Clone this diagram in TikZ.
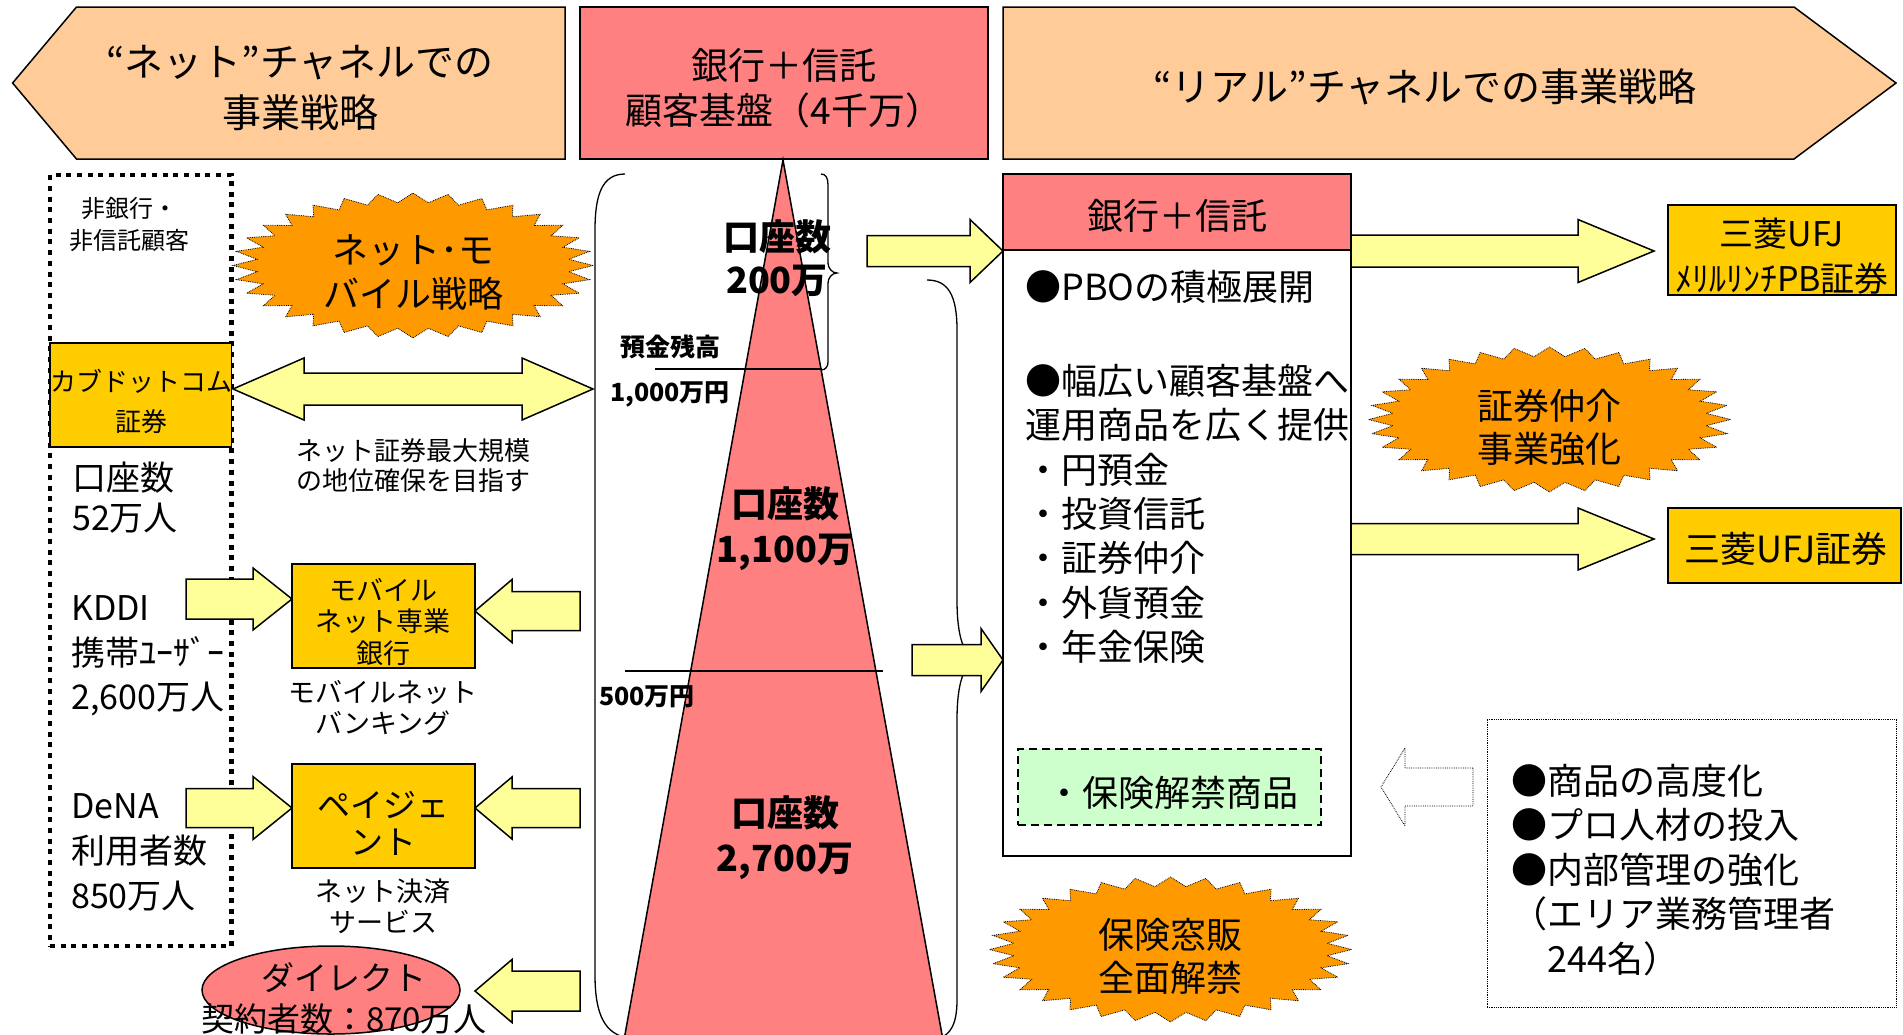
\documentclass[tikz,border=0pt]{standalone}
\usepackage{fontspec}
\setmainfont{Noto Sans CJK JP}
\usetikzlibrary{shapes.geometric}
\definecolor{peach}{HTML}{FFCC99}
\definecolor{pinkc}{HTML}{FF8080}
\definecolor{orng}{HTML}{FF9900}
\definecolor{yel}{HTML}{FFCC00}
\definecolor{ltyellow}{HTML}{FFFF99}
\definecolor{ltgreen}{HTML}{CCFFCC}
\newcommand\fsz[2]{\fontsize{#1pt}{#2pt}\selectfont}
\newcommand\barr[6]{\filldraw[barrowst] (#1,{#4-#5}) -- (#2,{#4-#5}) -- (#2,{#4-#6}) -- (#3,#4) -- (#2,{#4+#6}) -- (#2,{#4+#5}) -- (#1,{#4+#5}) -- cycle;}
% cx cy rx ry N samples depthfactor
\newcommand\burst[7]{\filldraw[burstst] plot[samples=#6, domain=0:360, variable=\t] ({#1+#3*(1-#7*(1-cos(#5*\t))/2)*cos(\t)},{#2+#4*(1-#7*(1-cos(#5*\t))/2)*sin(\t)}) -- cycle;}
\begin{document}
\begin{tikzpicture}[x=1pt,y=-1pt,
  txt/.style={inner sep=0pt, align=center, text=black},
  bx/.style={draw=black, line width=1.5pt, inner sep=0pt},
  barrowst/.style={draw=black, line width=1.5pt, fill=ltyellow, line join=miter},
  burstst/.style={fill=orng, draw=black, line width=0.8pt, densely dotted},
  thinln/.style={draw=black, line width=1.3pt}]
\useasboundingbox (0,0) rectangle (1903,1034);
\fill[white] (0,0) rectangle (1903,1034);
\clip (0,0) rectangle (1903,1034);

% top banners
\filldraw[fill=peach, draw=black, line width=1.5pt] (76.5,7) -- (565,7) -- (565,159) -- (76.5,159) -- (12.6,83) -- cycle;
\node[txt, font=\fsz{39}{51}] (nettitle) at (300,88) {“ネット”チャネルでの\\事業戦略};
\node[bx, fill=pinkc, minimum width=408pt, minimum height=152pt] (topbox) at (784,83) {};
\node[txt, font=\fsz{37}{45}] (toptxt) at (784,88) {銀行＋信託\\顧客基盤（4千万）};
\filldraw[fill=peach, draw=black, line width=1.5pt] (1003,7) -- (1794,7) -- (1896,83) -- (1794,159) -- (1003,159) -- cycle;
\node[txt, font=\fsz{39}{48}] (realtitle) at (1425,87) {“リアル”チャネルでの事業戦略};

% left dotted column
\node[draw=black, line width=4.5pt, dash pattern=on 5pt off 5.7pt, minimum width=181.5pt, minimum height=771pt, inner sep=0pt] (leftcol) at (140.75,560.5) {};
\node[txt, font=\fsz{24}{32}] (nonbank) at (129,224) {非銀行・\\非信託顧客};

% burst net mobile
\burst{413}{265.5}{180}{72.5}{32}{65}{0.13}
\node[txt, font=\fsz{36}{44}] (netmob) at (413,273) {ネット･モ\\バイル戦略};

% kabu.com
\node[bx, fill=yel, minimum width=181.5pt, minimum height=104pt] (kabu) at (140.75,395) {};
\node[txt, font=\fsz{26}{40}] (kabutxt) at (141,401) {カブドットコム\\証券};
\node[txt, font=\fsz{34}{40}, anchor=west, align=left] (kabunum) at (72,498) {口座数\\52万人};

% double arrow
\filldraw[barrowst] (233,389) -- (304,358) -- (304,373) -- (522,373) -- (522,358) -- (593,389) -- (522,420) -- (522,405) -- (304,405) -- (304,420) -- cycle;
\node[txt, font=\fsz{26}{30}] (netsec) at (413,466) {ネット証券最大規模\\の地位確保を目指す};

% big left bracket
\draw[thinln] (625,174) .. controls (602,174) and (595,195) .. (595,230) -- (595,975) .. controls (595,1015) and (605,1034) .. (628,1038);
% triangle
\filldraw[fill=pinkc, draw=black, line width=1.5pt] (783,160) -- (624,1040) -- (943,1040) -- cycle;
% level lines
\draw[thinln] (655,369) -- (822,369);
\draw[thinln] (625,671) -- (883,671);
% small brace
\draw[thinln] (821,174) .. controls (826,174) and (828,178) .. (828,185) -- (828,263) .. controls (828,268) and (832,273) .. (837,273) .. controls (832,273) and (828,278) .. (828,283) -- (828,362) .. controls (828,366) and (826,370) .. (821,370);
% right brace
\draw[thinln] (927,280) .. controls (948,280) and (957,295) .. (957,330) -- (957,600) .. controls (957,640) and (965,655) .. (975,660) .. controls (965,665) and (957,680) .. (957,720) -- (957,1000) .. controls (957,1025) and (950,1034) .. (940,1038);

\node[txt, font=\fsz{25}{30}\bfseries] (depo) at (670,347) {預金残高};
\node[txt, font=\fsz{25}{30}\bfseries] (lv1000) at (670,394) {1,000万円};
\node[txt, font=\fsz{25}{30}\bfseries] (lv500) at (647,697) {500万円};
\node[txt, font=\fsz{36}{43}\bfseries] (acc200) at (777,258) {口座数\\200万};
\node[txt, font=\fsz{36}{45}\bfseries] (acc1100) at (785,529) {口座数\\1,100万};
\node[txt, font=\fsz{36}{45}\bfseries] (acc2700) at (785,838) {口座数\\2,700万};

% arrows into right box
\barr{867}{970}{1003}{251}{15.5}{31.5}
\barr{912}{981}{1003}{660}{15.5}{31.5}

% right box
\node[bx, fill=white, minimum width=348pt, minimum height=606pt] (rbody) at (1177,553) {};
\node[bx, fill=pinkc, minimum width=348pt, minimum height=76pt] (rhead) at (1177,212) {};
\node[txt, font=\fsz{36}{44}] (rheadtxt) at (1177,216) {銀行＋信託};
\node[txt, font=\fsz{36}{44}, anchor=west] (pbo) at (1025,287) {●PBOの積極展開};
\node[txt, font=\fsz{36}{44.33}, anchor=west, align=left] (prodlist) at (1025,514) {●幅広い顧客基盤へ\\運用商品を広く提供\\・円預金\\・投資信託\\・証券仲介\\・外貨預金\\・年金保険};
\node[draw=black, line width=1.5pt, dashed, dash pattern=on 8pt off 5pt, fill=ltgreen, minimum width=303pt, minimum height=76pt, inner sep=0pt] (greenbox) at (1169.5,787) {};
\node[txt, font=\fsz{36}{44}] (greentxt) at (1172,793) {・保険解禁商品};

% right side
\barr{1351}{1578}{1654}{251}{16}{31.5}
\node[bx, fill=yel, minimum width=228pt, minimum height=90pt] (merrill) at (1782,250) {};
\node[txt, font=\fsz{34}{45}] (merrilltxt) at (1782,256) {三菱UFJ\\ﾒﾘﾙﾘﾝﾁPB証券};
\burst{1549.5}{419.5}{181}{72.5}{32}{65}{0.13}
\node[txt, font=\fsz{36}{43}] (burst2txt) at (1549,427) {証券仲介\\事業強化};
\barr{1351}{1578}{1654}{539}{15.5}{31}
\node[bx, fill=yel, minimum width=233pt, minimum height=75pt] (mufjsec) at (1784.5,545.5) {};
\node[txt, font=\fsz{36}{44}] (mufjtxt) at (1786,549) {三菱UFJ証券};
\burst{1170.5}{949.5}{181}{72.5}{32}{65}{0.13}
\node[txt, font=\fsz{36}{43}] (burst3txt) at (1170,956) {保険窓販\\全面解禁};
\filldraw[draw=black, fill=white, line width=0.8pt, densely dotted] (1473,768) -- (1405,768) -- (1405,748) -- (1381,787) -- (1405,826) -- (1405,806) -- (1473,806) -- cycle;
\node[draw=black, line width=0.8pt, densely dotted, minimum width=409pt, minimum height=288pt, inner sep=0pt] (rdotbox) at (1691.5,863) {};
\node[txt, font=\fsz{36}{44.5}, anchor=west, align=left] (reform) at (1511,870) {●商品の高度化\\●プロ人材の投入\\●内部管理の強化\\（エリア業務管理者\\　244名）};

% left lower
\node[txt, font=\fsz{34}{44.5}, anchor=west, align=left] (kddi) at (71,656) {KDDI\\携帯ﾕｰｻﾞｰ\\2,600万人};
\node[txt, font=\fsz{34}{45}, anchor=west, align=left] (dena) at (71,852) {DeNA\\利用者数\\850万人};
\barr{186}{253}{292}{599}{20}{31}
\barr{186}{253}{292}{808}{19.5}{31.5}
\node[bx, fill=yel, minimum width=183pt, minimum height=104pt] (mobile) at (383.5,616) {};
\node[txt, font=\fsz{27}{31.5}] (mobiletxt) at (383,622) {モバイル\\ネット専業\\銀行};
\node[txt, font=\fsz{27}{31}] (mobilelbl) at (383,708) {モバイルネット\\バンキング};
\node[bx, fill=yel, minimum width=183pt, minimum height=104pt] (payg) at (383.5,816) {};
\node[txt, font=\fsz{33}{37}] (paygtxt) at (383,823) {ペイジェ\\ント};
\node[txt, font=\fsz{27}{31}] (payglbl) at (383,906) {ネット決済\\サービス};
\barr{580}{512}{475}{611}{19.5}{31.5}
\barr{580}{512}{475}{808}{19.5}{31}
\barr{580}{512}{475}{991}{20}{31.5}
\node[ellipse, draw=black, line width=1.5pt, fill=pinkc, minimum width=258pt, minimum height=88pt, inner sep=0pt] (direct) at (331,990) {};
\node[txt, font=\fsz{33}{41}] (directtxt) at (344,998) {ダイレクト\\契約者数：870万人};
\end{tikzpicture}
\end{document}
